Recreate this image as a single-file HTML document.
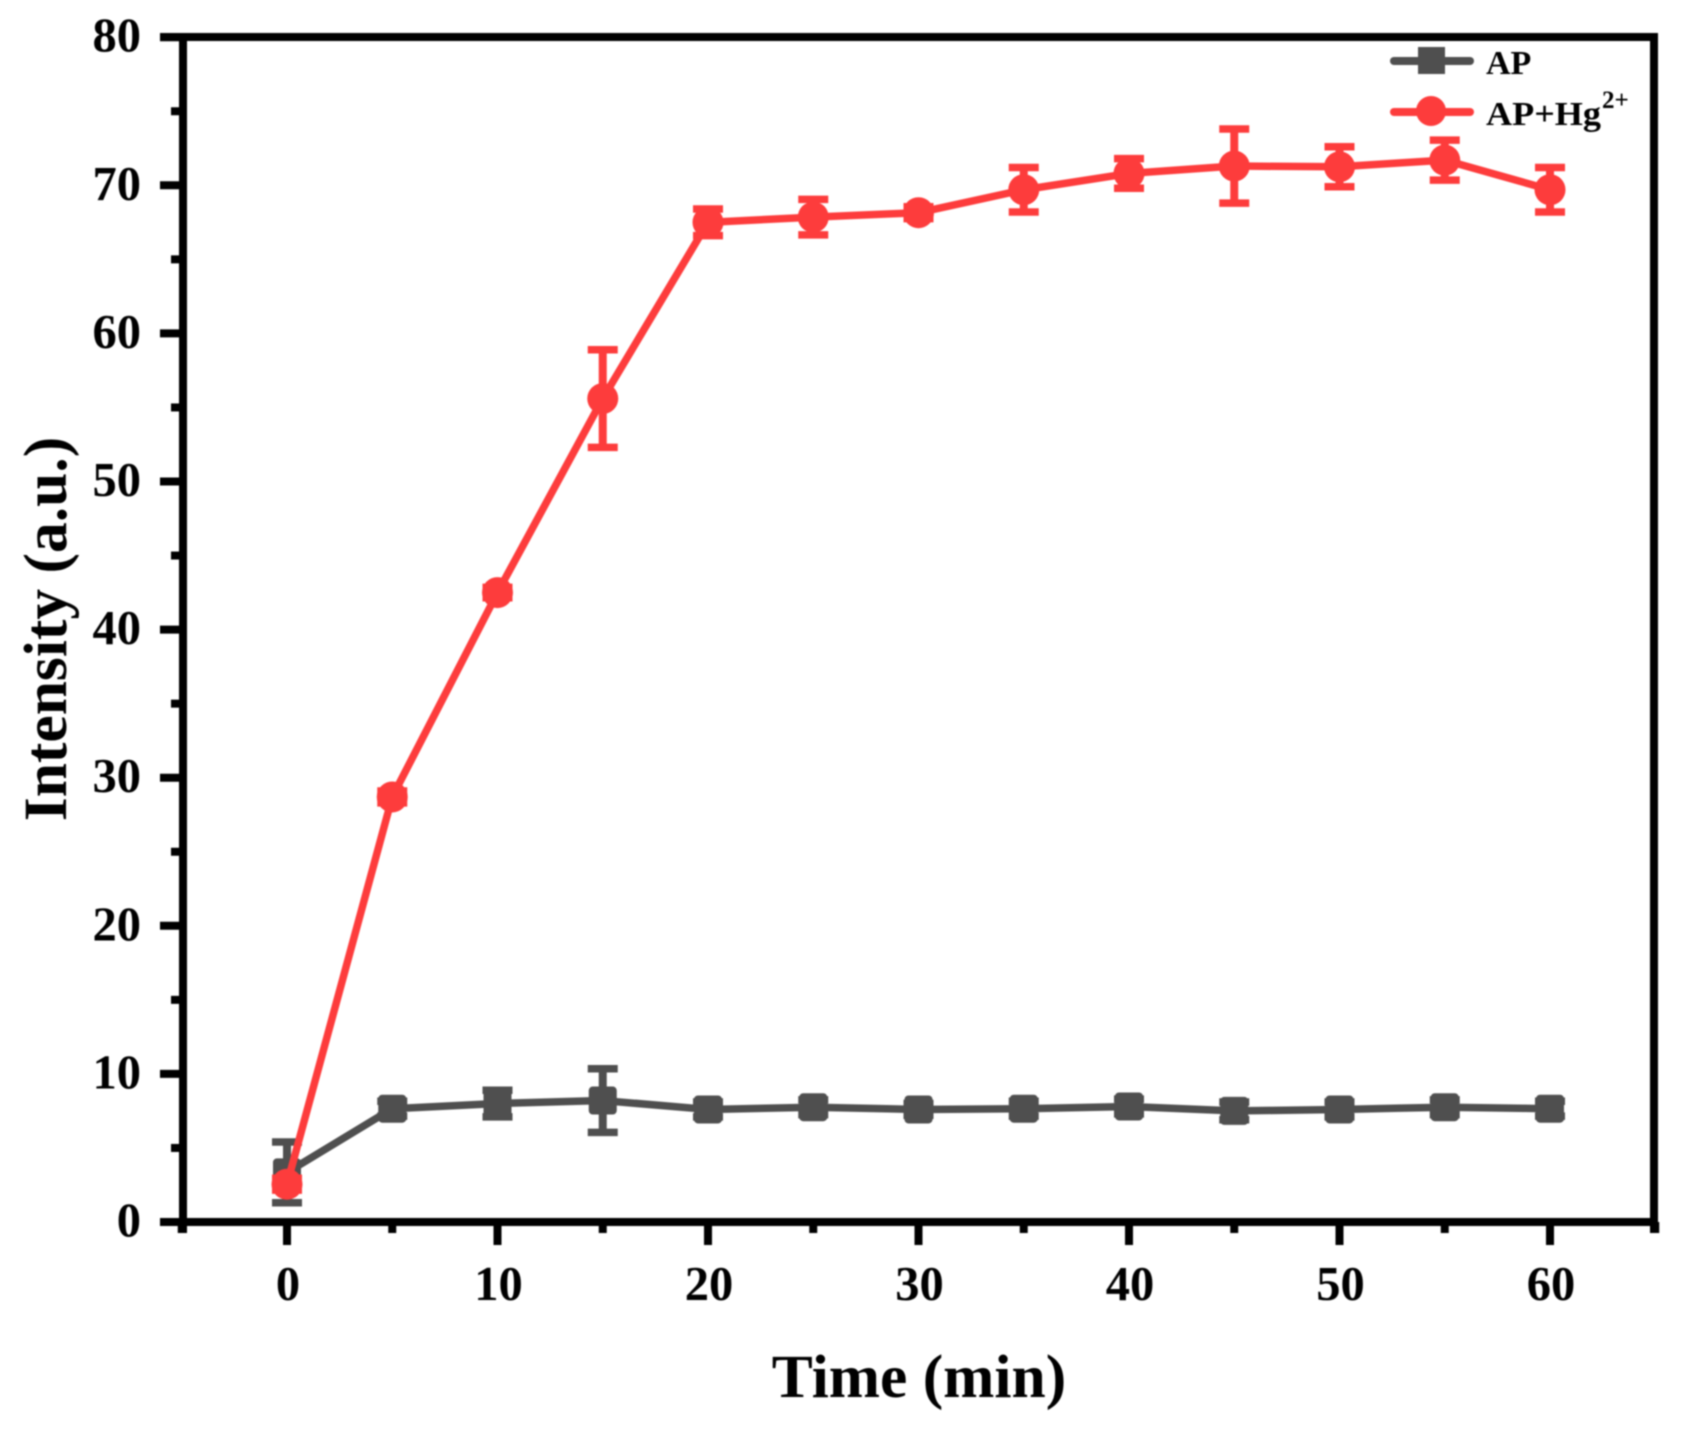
<!DOCTYPE html>
<html lang="en">
<head>
<meta charset="utf-8">
<title>Intensity over time</title>
<style>
  html, body { margin: 0; padding: 0; background: #fff; }
  body { width: 1686px; height: 1430px; overflow: hidden; }
  svg { display: block; filter: blur(0.8px); }
  text { font-family: "Liberation Serif", serif; font-weight: bold; fill: #000; }
</style>
</head>
<body>
<svg id="chart" xmlns="http://www.w3.org/2000/svg" width="1686" height="1430" viewBox="0 0 1686 1430">
  <rect x="0" y="0" width="1686" height="1430" fill="#fff"/>
  <g id="marks-layer"></g>
  <g id="axes-layer"></g>
  <text x="919" y="1397" font-size="61.5" text-anchor="middle">Time (min)</text>
  <text x="0" y="0" font-size="61.5" text-anchor="middle" transform="translate(66 629) rotate(-90)">Intensity (a.u.)</text>
  <g>
    <g>
      <line x1="1394" y1="61" x2="1470" y2="61" stroke="#4f4f4f" stroke-width="8" stroke-linecap="round"/>
      <rect x="1418" y="47" width="27" height="27" fill="#4f4f4f"/>
      <text x="1486" y="74" font-size="34">AP</text>
    </g>
    <g>
      <line x1="1394" y1="112" x2="1470" y2="112" stroke="#fd3c3c" stroke-width="8" stroke-linecap="round"/>
      <circle cx="1431" cy="111" r="15" fill="#fd3c3c"/>
      <text x="1486" y="125" font-size="34" textLength="115" lengthAdjust="spacingAndGlyphs">AP+Hg</text>
      <text x="1602" y="108" font-size="25">2+</text>
    </g>
  </g>
</svg>
<script>
var timePoints = [0, 5, 10, 15, 20, 25, 30, 35, 40, 45, 50, 55, 60];
var apValues = [3.35, 7.65, 8.0, 8.2, 7.6, 7.75, 7.6, 7.65, 7.8, 7.5, 7.6, 7.75, 7.65];
var apErrors = [2.05, 0.5, 0.9, 2.15, 0.5, 0.5, 0.4, 0.5, 0.5, 0.6, 0.5, 0.5, 0.5];
var hgValues = [2.55, 28.7, 42.5, 55.6, 67.5, 67.85, 68.15, 69.7, 70.8, 71.3, 71.25, 71.7, 69.7];
var hgErrors = [0.4, 0.4, 0.35, 3.3, 0.9, 1.2, 0.4, 1.5, 1.0, 2.5, 1.35, 1.35, 1.5];
var xMajorTicks = [0, 10, 20, 30, 40, 50, 60];
var xMinorTicks = [-5, 5, 15, 25, 35, 45, 55, 65];
var yMajorTicks = [0, 10, 20, 30, 40, 50, 60, 70, 80];
var yMinorTicks = [5, 15, 25, 35, 45, 55, 65, 75];

var NS = 'http://www.w3.org/2000/svg';
function xScale(v) { return 287 + (v - 0) * 21.05; }
function yScale(v) { return 1222 - v * 148.1 / 10; }
function make(tag, attrs, parent) {
  var el = document.createElementNS(NS, tag);
  for (var k in attrs) { el.setAttribute(k, attrs[k]); }
  parent.appendChild(el);
  return el;
}

var marks = document.getElementById('marks-layer');
var axes = document.getElementById('axes-layer');

function drawSeries(name, values, errors, color, isSquare) {
  var group = make('g', {}, marks);
  
  

  var pts = timePoints.map(function (t, i) { return xScale(t) + ',' + yScale(values[i]); }).join(' ');
  var line = make('polyline', { points: pts, fill: 'none', stroke: color, 'stroke-width': 7.5, 'stroke-linejoin': 'round' }, group);
  
  

  timePoints.forEach(function (t, i) {
    var x = xScale(t);
    var top = yScale(values[i] + errors[i]);
    var bottom = yScale(values[i] - errors[i]);
    var bar = make('line', { x1: x, x2: x, y1: top, y2: bottom, stroke: color, 'stroke-width': 8 }, group);
    
    
    var capTop = make('line', { x1: x - 15, x2: x + 15, y1: top, y2: top, stroke: color, 'stroke-width': 7.5 }, group);
    
    
    var capBottom = make('line', { x1: x - 15, x2: x + 15, y1: bottom, y2: bottom, stroke: color, 'stroke-width': 7.5 }, group);
    
    
    var y = yScale(values[i]);
    var point;
    if (isSquare) {
      point = make('rect', { x: x - 14, y: y - 14, width: 28, height: 28, rx: 4, fill: color }, group);
    } else {
      point = make('circle', { cx: x, cy: y, r: 15.5, fill: color }, group);
    }
    
    
  });
}

drawSeries('ap', apValues, apErrors, '#4f4f4f', true);
drawSeries('ap-hg', hgValues, hgErrors, '#fd3c3c', false);

var plotFrame = make('path', { d: 'M160 37H1654V1233M183 37V1233M160 1222H1654', fill: 'none', stroke: '#000', 'stroke-width': 8 }, axes);



yMajorTicks.forEach(function (v) {
  var y = yScale(v);
  var tick = make('line', { x1: 160, x2: 183, y1: y, y2: y, stroke: '#000', 'stroke-width': 8 }, axes);
  
  
  var label = make('text', { x: 141, y: y + 14.5, 'font-size': 48.5, 'text-anchor': 'end' }, axes);
  
  
  label.textContent = v;
});
yMinorTicks.forEach(function (v) {
  var y = yScale(v);
  var tick = make('line', { x1: 171, x2: 183, y1: y, y2: y, stroke: '#000', 'stroke-width': 8 }, axes);
  
  
});
xMajorTicks.forEach(function (v) {
  var x = xScale(v);
  var tick = make('line', { x1: x, x2: x, y1: 1222, y2: 1245, stroke: '#000', 'stroke-width': 8 }, axes);
  
  
  var label = make('text', { x: x + 1, y: 1300, 'font-size': 48.5, 'text-anchor': 'middle' }, axes);
  
  
  label.textContent = v;
});
xMinorTicks.forEach(function (v) {
  var x = xScale(v);
  var tick = make('line', { x1: x, x2: x, y1: 1222, y2: 1233, stroke: '#000', 'stroke-width': 8 }, axes);
  
  
});
</script>
</body>
</html>
